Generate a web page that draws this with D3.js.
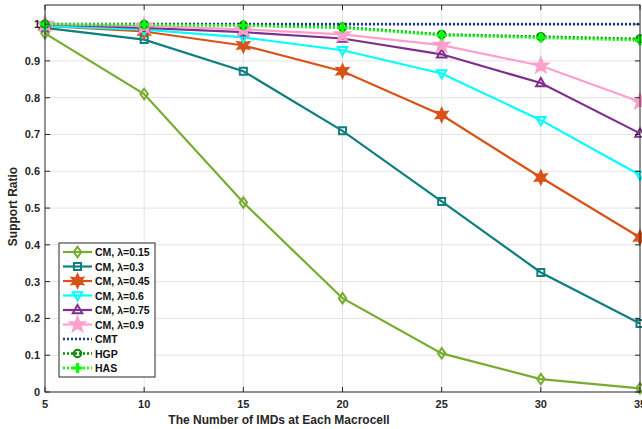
<!DOCTYPE html>
<html>
<head>
<meta charset="utf-8">
<script src="https://cdn.jsdelivr.net/npm/d3@7"></script>
<style>
  body { margin: 0; background: #fff; }
  svg { display: block; font-family: "Liberation Sans", Arial, Helvetica, sans-serif; }
</style>
</head>
<body>
<svg id="chart" width="642" height="429"></svg>
<script>
// x values (number of IMDs)
const imds = [5, 10, 15, 20, 25, 30, 35];
const xTicks = [5, 10, 15, 20, 25, 30, 35];
const yTicks = [0, 0.1, 0.2, 0.3, 0.4, 0.5, 0.6, 0.7, 0.8, 0.9, 1];

// support ratio per scheme
const cm015 = [0.975, 0.81, 0.515, 0.255, 0.105, 0.035, 0.01];
const cm03  = [0.99, 0.958, 0.872, 0.71, 0.518, 0.325, 0.186];
const cm045 = [0.995, 0.98, 0.942, 0.872, 0.753, 0.583, 0.42];
const cm06  = [0.995, 0.985, 0.964, 0.929, 0.866, 0.739, 0.59];
const cm075 = [1.0, 0.99, 0.978, 0.961, 0.918, 0.84, 0.703];
const cm09  = [1.0, 0.995, 0.986, 0.972, 0.943, 0.887, 0.789];
const cmt   = [1, 1, 1, 1, 1, 1, 1];
const hgp   = [1.0, 0.999, 0.997, 0.992, 0.972, 0.966, 0.96];
const has   = [1.0, 0.998, 0.996, 0.99, 0.97, 0.963, 0.956];

const seriesNames = ["CM, \u03bb=0.15", "CM, \u03bb=0.3", "CM, \u03bb=0.45", "CM, \u03bb=0.6",
                     "CM, \u03bb=0.75", "CM, \u03bb=0.9", "CMT", "HGP", "HAS"];

const series = [
  { name: seriesNames[0], values: cm015, color: "#77ac30", marker: "diamond", dash: null },
  { name: seriesNames[1], values: cm03,  color: "#0f7f80", marker: "square", dash: null },
  { name: seriesNames[2], values: cm045, color: "#d95319", marker: "hexagram", dash: null },
  { name: seriesNames[3], values: cm06,  color: "#00ffff", marker: "trianDown", dash: null },
  { name: seriesNames[4], values: cm075, color: "#7e2f8e", marker: "trianUp", dash: null },
  { name: seriesNames[5], values: cm09,  color: "#ff9fcc", marker: "pentagram", dash: null },
  { name: seriesNames[6], values: cmt,   color: "#1a3a96", marker: null, dash: "2,2" },
  { name: seriesNames[7], values: hgp,   color: "#008a00", marker: "circle", dash: "2,2" },
  { name: seriesNames[8], values: has,   color: "#00ff00", marker: "plus", dash: "2,2" }
];

const svg = d3.select("svg#chart");
const margin = { top: 5, right: 2, bottom: 37, left: 45 };
const width = +svg.attr("width") - margin.left - margin.right;
const height = +svg.attr("height") - margin.top - margin.bottom;

const xScale = d3.scaleLinear().domain([5, 35]).range([0, width]);
const yScale = d3.scaleLinear().domain([0, 1.052]).range([height, 0]);

const g = svg.append("g").attr("transform", `translate(${margin.left},${margin.top})`);

// grid
g.append("g").selectAll("line").data(xTicks.slice(1, -1)).join("line")
  .attr("x1", d => xScale(d)).attr("x2", d => xScale(d))
  .attr("y1", 0).attr("y2", height)
  .attr("stroke", "#e3e3e3").attr("stroke-width", 1);
g.append("g").selectAll("line").data(yTicks.slice(1)).join("line")
  .attr("x1", 0).attr("x2", width)
  .attr("y1", d => yScale(d)).attr("y2", d => yScale(d))
  .attr("stroke", "#e3e3e3").attr("stroke-width", 1);

// marker shapes
const markerPath = (type, s) => {
  if (type === "diamond") return `M0,${-s * 1.05}L${s * 0.75},0L0,${s * 1.05}L${-s * 0.75},0Z`;
  if (type === "square") return `M${-s * 0.7},${-s * 0.7}h${s * 1.4}v${s * 1.4}h${-s * 1.4}Z`;
  if (type === "trianUp") return `M0,${-s}L${s * 0.95},${s * 0.65}L${-s * 0.95},${s * 0.65}Z`;
  if (type === "trianDown") return `M0,${s}L${s * 0.95},${-s * 0.65}L${-s * 0.95},${-s * 0.65}Z`;
  if (type === "circle") return d3.symbol(d3.symbolCircle, Math.PI * s * s * 0.55)();
  if (type === "plus") return `M${-s},0H${s}M0,${-s}V${s}`;
  if (type === "pentagram" || type === "hexagram") {
    const n = type === "pentagram" ? 5 : 6;
    const r0 = s * 1.1, r1 = type === "pentagram" ? s * 0.45 : s * 0.55;
    const pts = d3.range(n * 2).map(i => {
      const a = -Math.PI / 2 + i * Math.PI / n;
      const r = i % 2 ? r1 : r0;
      return [r * Math.cos(a), r * Math.sin(a)];
    });
    return "M" + pts.join("L") + "Z";
  }
  return "";
};
const markerFill = (m, c) => (m === "pentagram" || m === "hexagram") ? c : (m === "square" || m === "circle" || m === "plus" ? "none" : "none");

// lines
const lineGen = d3.line().x((d, i) => xScale(imds[i])).y(d => yScale(d));

series.forEach(s => {
  g.append("path")
    .attr("d", lineGen(s.values))
    .attr("fill", "none")
    .attr("stroke", s.color)
    .attr("stroke-width", s.dash ? 2.6 : 2.2)
    .attr("stroke-dasharray", s.dash);
});

series.forEach(s => {
  if (!s.marker) return;
  const size = s.marker === "pentagram" ? 7 : s.marker === "hexagram" ? 6 : s.marker === "plus" ? 5 : 5;
  g.append("g").selectAll("path").data(s.values).join("path")
    .attr("transform", (d, i) => `translate(${xScale(imds[i])},${yScale(d)})`)
    .attr("d", markerPath(s.marker, size))
    .attr("fill", markerFill(s.marker, s.color))
    .attr("stroke", s.color)
    .attr("stroke-width", s.marker === "plus" ? 3 : 2);
});

// box and ticks
const axisColor = "#262626";
g.append("rect").attr("width", width).attr("height", height)
  .attr("fill", "none").attr("stroke", axisColor).attr("stroke-width", 1);

const tl = 5;
g.append("g").selectAll("line").data(xTicks).join("line")
  .attr("x1", d => xScale(d)).attr("x2", d => xScale(d))
  .attr("y1", height).attr("y2", height - tl).attr("stroke", axisColor);
g.append("g").selectAll("line").data(xTicks).join("line")
  .attr("x1", d => xScale(d)).attr("x2", d => xScale(d))
  .attr("y1", 0).attr("y2", tl).attr("stroke", axisColor);
g.append("g").selectAll("line").data(yTicks).join("line")
  .attr("x1", 0).attr("x2", tl)
  .attr("y1", d => yScale(d)).attr("y2", d => yScale(d)).attr("stroke", axisColor);
g.append("g").selectAll("line").data(yTicks).join("line")
  .attr("x1", width).attr("x2", width - tl)
  .attr("y1", d => yScale(d)).attr("y2", d => yScale(d)).attr("stroke", axisColor);

// tick labels
g.append("g").selectAll("text").data(xTicks).join("text")
  .attr("x", d => xScale(d)).attr("y", height + 16)
  .attr("text-anchor", "middle")
  .attr("font-size", 11).attr("font-weight", "bold").attr("fill", axisColor)
  .text(d => d);
g.append("g").selectAll("text").data(yTicks).join("text")
  .attr("x", -5).attr("y", d => yScale(d) + 4)
  .attr("text-anchor", "end")
  .attr("font-size", 11).attr("font-weight", "bold").attr("fill", axisColor)
  .text(d => d3.format("~g")(d));

// axis titles
svg.append("text")
  .attr("x", 279).attr("y", 424)
  .attr("text-anchor", "middle")
  .attr("font-size", 12).attr("font-weight", "bold").attr("fill", axisColor)
  .text("The Number of IMDs at Each Macrocell");
svg.append("text")
  .attr("transform", `translate(17,${margin.top + height / 2 + 8}) rotate(-90)`)
  .attr("text-anchor", "middle")
  .attr("font-size", 12).attr("font-weight", "bold").attr("fill", axisColor)
  .text("Support Ratio");

// legend
const legend = svg.append("g").attr("transform", "translate(59,243)");
legend.append("rect").attr("width", 96).attr("height", 134)
  .attr("fill", "#fff").attr("stroke", axisColor).attr("stroke-width", 1);
series.forEach((s, i) => {
  const y = 9 + i * 14.5;
  legend.append("line").attr("x1", 4).attr("x2", 33).attr("y1", y).attr("y2", y)
    .attr("stroke", s.color).attr("stroke-width", s.dash ? 2.6 : 2.2)
    .attr("stroke-dasharray", s.dash);
  if (s.marker) {
    const size = s.marker === "pentagram" ? 7 : s.marker === "hexagram" ? 6 : 5;
    legend.append("path").attr("transform", `translate(18.5,${y})`)
      .attr("d", markerPath(s.marker, size))
      .attr("fill", markerFill(s.marker, s.color))
      .attr("stroke", s.color)
      .attr("stroke-width", s.marker === "plus" ? 3 : 2);
  }
  legend.append("text").attr("x", 36).attr("y", y + 4)
    .attr("font-size", 10.5).attr("font-weight", "bold").attr("fill", "#111")
    .text(s.name);
});
</script>
</body>
</html>
